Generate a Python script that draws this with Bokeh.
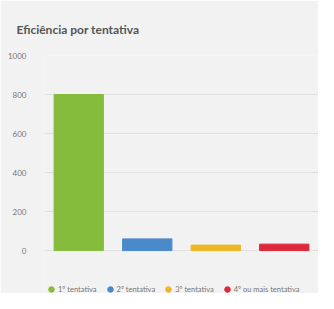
from bokeh.plotting import figure
from bokeh.models import Legend, LegendItem, ColumnDataSource
from bokeh.embed import file_html
from bokeh.resources import INLINE

categories = ["1º tentativa", "2º tentativa", "3º tentativa", "4º ou mais tentativa"]
values = [800, 60, 28, 33]
colors = ["#86bc3b", "#4a8acb", "#efb624", "#dc2a3a"]
y_ticks = [0, 200, 400, 600, 800, 1000]

src = ColumnDataSource(dict(cat=categories, val=values, color=colors))

p = figure(width=318, height=293, x_range=categories, y_range=(-220, 1000),
           output_backend="svg", toolbar_location=None,
           title="Eficiência por tentativa",
           min_border_left=44, min_border_right=0, min_border_top=49, min_border_bottom=0)
p.background_fill_color = "#f2f2f2"
p.border_fill_color = "#f2f2f2"
p.outline_line_color = None

p.title.align = "left"
p.title.offset = -28
p.title.standoff = 38
p.title.text_font = "Lato"
p.title.text_font_size = "12px"
p.title.text_font_style = "bold"
p.title.text_color = "#555555"

p.vbar(x="cat", top="val", width=0.72, color="color", source=src)

p.xaxis.visible = False
p.yaxis.ticker = y_ticks
p.yaxis.axis_line_color = None
p.yaxis.major_tick_line_color = None
p.yaxis.minor_tick_line_color = None
p.yaxis.major_label_text_font = "Lato"
p.yaxis.major_label_text_font_size = "8px"
p.yaxis.major_label_text_color = "#777777"
p.yaxis.major_label_standoff = 12
p.xgrid.grid_line_color = None
p.ygrid.grid_line_color = "#e0e0e0"

items = []
for c, col in zip(categories, colors):
    r = p.scatter(x=[categories[0]], y=[-5000], marker="circle", size=8, color=col)
    items.append(LegendItem(label=c, renderers=[r]))

legend = Legend(items=items, orientation="horizontal", location=(0, -5),
                label_text_font="Lato", label_text_font_size="7.5px",
                label_text_color="#777777", glyph_width=14, glyph_height=18,
                label_standoff=0, spacing=6, padding=0, margin=0,
                background_fill_alpha=0, border_line_color=None)
p.add_layout(legend)

open("out.html", "w").write(file_html(p, INLINE))
